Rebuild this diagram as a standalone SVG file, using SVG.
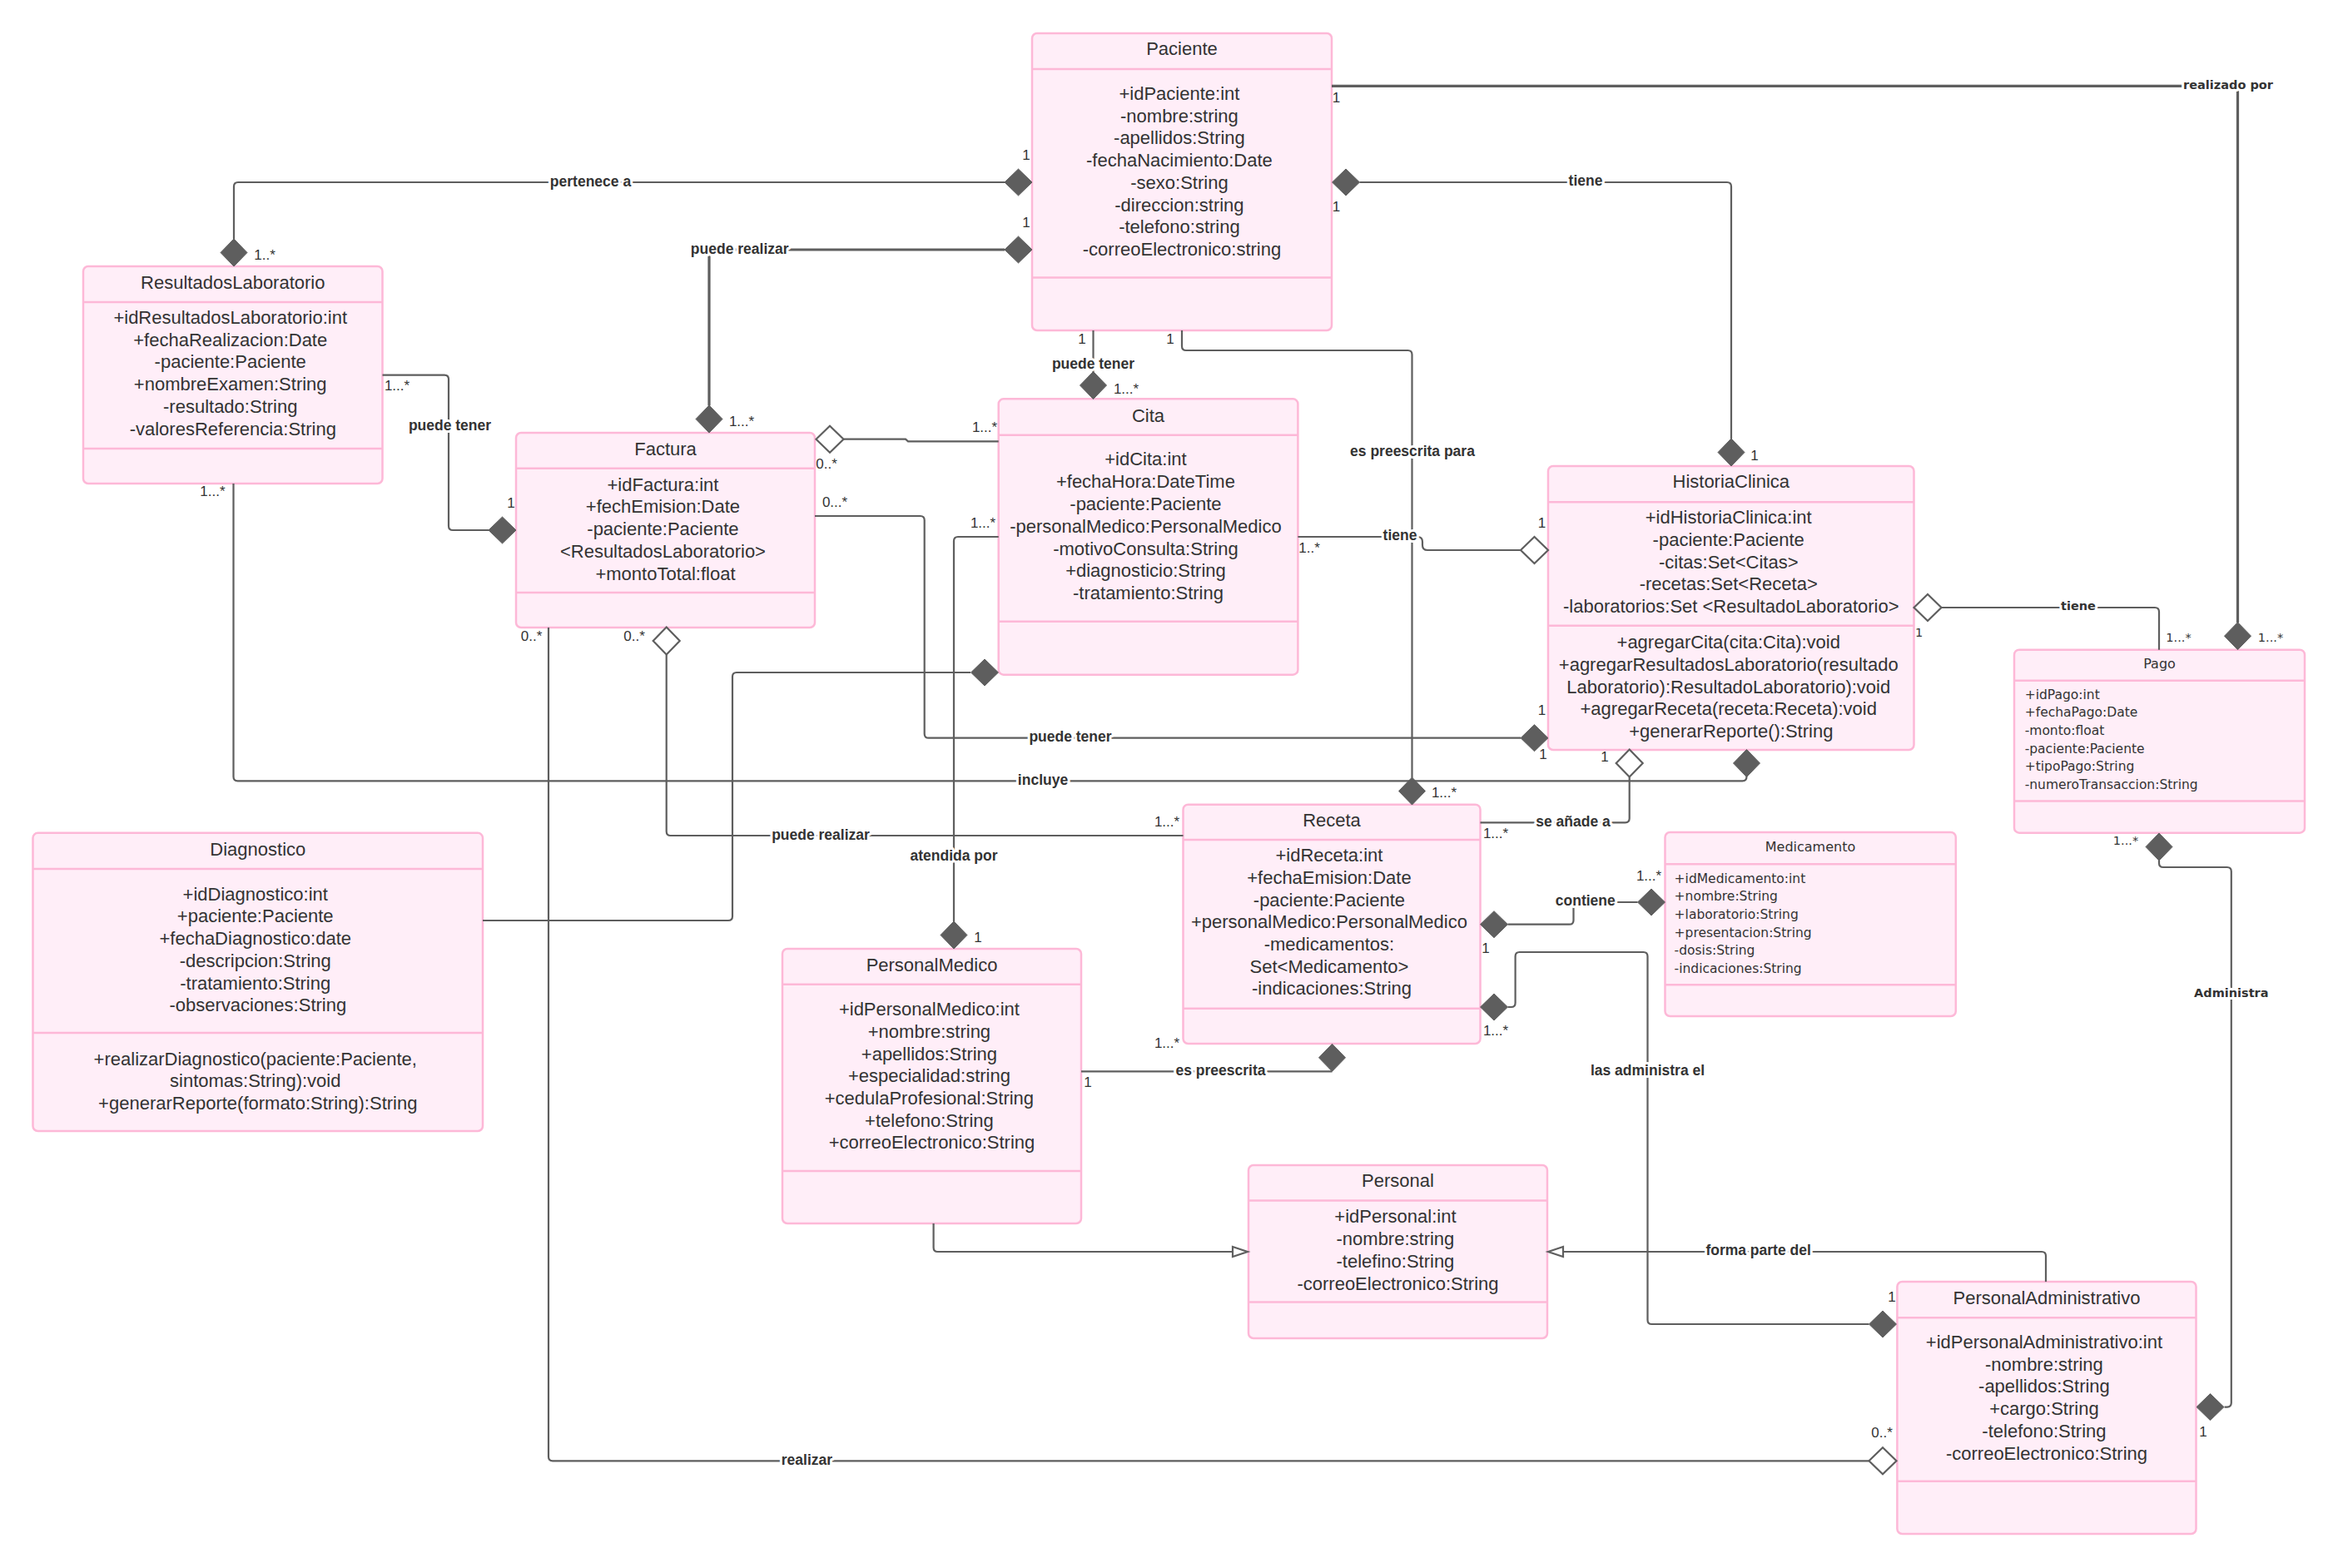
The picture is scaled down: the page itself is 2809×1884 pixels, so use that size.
<svg xmlns="http://www.w3.org/2000/svg" xmlns:xlink="http://www.w3.org/1999/xlink" width="2809" height="1884" viewBox="0 0 2809 1884">
  <style>
    .box { fill: #FFEEF8; stroke: #FDB8D7; stroke-width: 2.5; }
    .sep { stroke: #FDB8D7; stroke-width: 2.5; }
    .t { font-family: "Liberation Sans", Arial, sans-serif; font-size: 22px; fill: #333333; text-anchor: middle; }
    .s { font-family: "DejaVu Sans", Verdana, sans-serif; font-size: 15.5px; fill: #333333; }
    .st { font-family: "DejaVu Sans", Verdana, sans-serif; font-size: 16px; fill: #333333; text-anchor: middle; }
    .ln { fill: none; stroke: #5E5E5E; stroke-width: 2.2; }
    .thick { stroke-width: 3.2; }
    .fd { fill: #5E5E5E; stroke: #5E5E5E; stroke-width: 1; }
    .hd { fill: #FFFFFF; stroke: #5E5E5E; stroke-width: 2.2; }
    .lbl { font-family: "Liberation Sans", Arial, sans-serif; font-size: 17.5px; font-weight: bold; fill: #333333; text-anchor: middle; paint-order: stroke; stroke: #FFFFFF; stroke-width: 6px; stroke-linejoin: round; }
    .lbd { font-family: "DejaVu Sans", Verdana, sans-serif; font-size: 14.5px; font-weight: bold; fill: #333333; text-anchor: middle; paint-order: stroke; stroke: #FFFFFF; stroke-width: 6px; stroke-linejoin: round; }
    .m { font-family: "Liberation Sans", Arial, sans-serif; font-size: 17px; fill: #333333; text-anchor: middle; }
    .md { font-family: "DejaVu Sans", Verdana, sans-serif; font-size: 14.5px; fill: #333333; text-anchor: middle; }
  </style>
  <defs>
    <path id="dh" d="M-16.5,0 L0,-16 L16.5,0 L0,16 Z"/>
    <path id="dv" d="M0,-16.5 L16,0 L0,16.5 L-16,0 Z"/>
    <path id="triR" d="M0,0 L-18,-6 L-18,6 Z"/>
    <path id="triL" d="M0,0 L18,-6 L18,6 Z"/>
  </defs>

  <rect width="2809" height="1884" fill="#FFFFFF"/>

  <!-- Classes -->
  <g id="paciente">
    <rect class="box" x="1240" y="40" width="360" height="357" rx="6"/>
    <line class="sep" x1="1240" y1="83" x2="1600" y2="83"/>
    <line class="sep" x1="1240" y1="333.5" x2="1600" y2="333.5"/>
    <text class="t" x="1420" y="66">Paciente</text>
    <text class="t" x="1420" y="120">
      <tspan x="1420" dy="0">+idPaciente:int</tspan>
      <tspan x="1420" dy="26.7">-nombre:string</tspan>
      <tspan x="1420" dy="26.7">-apellidos:String</tspan>
      <tspan x="1420" dy="26.7">-fechaNacimiento:Date</tspan>
      <tspan x="1420" dy="26.7">-sexo:String</tspan>
      <tspan x="1420" dy="26.7">-direccion:string</tspan>
      <tspan x="1420" dy="26.7">-telefono:string</tspan>
      <tspan x="1420" dy="26.7">-correoElectronico:string</tspan>
    </text>
  </g>

  <g id="resultados-laboratorio">
    <rect class="box" x="100" y="320" width="359.5" height="261" rx="6"/>
    <line class="sep" x1="100" y1="363" x2="459.5" y2="363"/>
    <line class="sep" x1="100" y1="539" x2="459.5" y2="539"/>
    <text class="t" x="279.8" y="346.8">ResultadosLaboratorio</text>
    <text class="t" x="279.8" y="388.7">
      <tspan x="279.8" dy="0">+idResultadosLaboratorio:int</tspan>
      <tspan x="279.8" dy="26.8">+fechaRealizacion:Date</tspan>
      <tspan x="279.8" dy="26.8">-paciente:Paciente</tspan>
      <tspan x="279.8" dy="26.8">+nombreExamen:String</tspan>
      <tspan x="279.8" dy="26.8">-resultado:String</tspan>
      <tspan x="279.8" dy="26.8">-valoresReferencia:String</tspan>
    </text>
  </g>

  <g id="factura">
    <rect class="box" x="620" y="520" width="359" height="234" rx="6"/>
    <line class="sep" x1="620" y1="562.7" x2="979" y2="562.7"/>
    <line class="sep" x1="620" y1="712" x2="979" y2="712"/>
    <text class="t" x="799.5" y="547">Factura</text>
    <text class="t" x="799.5" y="589.5">
      <tspan x="799.5" dy="0">+idFactura:int</tspan>
      <tspan x="799.5" dy="26.8">+fechEmision:Date</tspan>
      <tspan x="799.5" dy="26.8">-paciente:Paciente</tspan>
      <tspan x="799.5" dy="26.8">&lt;ResultadosLaboratorio&gt;</tspan>
      <tspan x="799.5" dy="26.8">+montoTotal:float</tspan>
    </text>
  </g>

  <g id="cita">
    <rect class="box" x="1199.7" y="479.3" width="359.7" height="331.4" rx="6"/>
    <line class="sep" x1="1199.7" y1="522.7" x2="1559.4" y2="522.7"/>
    <line class="sep" x1="1199.7" y1="746.7" x2="1559.4" y2="746.7"/>
    <text class="t" x="1379.5" y="507">Cita</text>
    <text class="t" x="1379.5" y="559.4">
      <tspan x="1379.5" dy="0">+idCita:int</tspan>
      <tspan x="1379.5" dy="26.8">+fechaHora:DateTime</tspan>
      <tspan x="1379.5" dy="26.8">-paciente:Paciente</tspan>
      <tspan x="1379.5" dy="26.8">-personalMedico:PersonalMedico</tspan>
      <tspan x="1379.5" dy="26.8">-motivoConsulta:String</tspan>
      <tspan x="1379.5" dy="26.8">+diagnosticio:String</tspan>
      <tspan x="1379.5" dy="26.8">-tratamiento:String</tspan>
    </text>
  </g>

  <g id="historia-clinica">
    <rect class="box" x="1860" y="560" width="439.5" height="341" rx="6"/>
    <line class="sep" x1="1860" y1="603.3" x2="2299.5" y2="603.3"/>
    <line class="sep" x1="1860" y1="751.7" x2="2299.5" y2="751.7"/>
    <text class="t" x="2079.8" y="586">HistoriaClinica</text>
    <text class="t" x="2079.8" y="629.4">
      <tspan x="2079.8" dy="0">+idHistoriaClinica:int</tspan>
      <tspan x="2079.8" dy="26.65">-paciente:Paciente</tspan>
      <tspan x="2079.8" dy="26.65">-citas:Set&lt;Citas&gt;</tspan>
      <tspan x="2079.8" dy="26.65">-recetas:Set&lt;Receta&gt;</tspan>
      <tspan x="2079.8" dy="26.65">-laboratorios:Set &lt;ResultadoLaboratorio&gt;</tspan>
    </text>
    <text class="t" x="2079.8" y="779.4">
      <tspan x="2079.8" dy="0">+agregarCita(cita:Cita):void</tspan>
      <tspan x="2079.8" dy="26.65">+agregarResultadosLaboratorio(resultado</tspan>
      <tspan x="2079.8" dy="26.65">Laboratorio):ResultadoLaboratorio):void</tspan>
      <tspan x="2079.8" dy="26.65">+agregarReceta(receta:Receta):void</tspan>
      <tspan x="2079.8" dy="26.65">+generarReporte():String</tspan>
    </text>
  </g>

  <g id="pago">
    <rect class="box" x="2420" y="780.7" width="349" height="220" rx="6"/>
    <line class="sep" x1="2420" y1="817.7" x2="2769" y2="817.7"/>
    <line class="sep" x1="2420" y1="962.5" x2="2769" y2="962.5"/>
    <text class="st" x="2594.5" y="802.5">Pago</text>
    <text class="s" x="2432.7" y="839.8">
      <tspan x="2432.7" dy="0">+idPago:int</tspan>
      <tspan x="2432.7" dy="21.6">+fechaPago:Date</tspan>
      <tspan x="2432.7" dy="21.6">-monto:float</tspan>
      <tspan x="2432.7" dy="21.6">-paciente:Paciente</tspan>
      <tspan x="2432.7" dy="21.6">+tipoPago:String</tspan>
      <tspan x="2432.7" dy="21.6">-numeroTransaccion:String</tspan>
    </text>
  </g>

  <g id="diagnostico">
    <rect class="box" x="39.5" y="1000.8" width="540.5" height="358.2" rx="6"/>
    <line class="sep" x1="39.5" y1="1044" x2="580" y2="1044"/>
    <line class="sep" x1="39.5" y1="1241" x2="580" y2="1241"/>
    <text class="t" x="309.8" y="1027.7">Diagnostico</text>
    <text class="t" x="309.8" y="1081.7">
      <tspan x="309.8" dy="0">+idDiagnostico:int</tspan>
      <tspan x="309.8" dy="26.7">+paciente:Paciente</tspan>
      <tspan x="309.8" dy="26.7">+fechaDiagnostico:date</tspan>
      <tspan x="309.8" dy="26.7">-descripcion:String</tspan>
      <tspan x="309.8" dy="26.7">-tratamiento:String</tspan>
      <tspan x="309.8" dy="26.7">-observaciones:String</tspan>
    </text>
    <text class="t" x="309.8" y="1279.5">
      <tspan x="309.8" dy="0">+realizarDiagnostico(paciente:Paciente,</tspan>
      <tspan x="309.8" dy="26.7">sintomas:String):void</tspan>
      <tspan x="309.8" dy="26.7">+generarReporte(formato:String):String</tspan>
    </text>
  </g>

  <g id="receta">
    <rect class="box" x="1421.5" y="966.7" width="357" height="287.3" rx="6"/>
    <line class="sep" x1="1421.5" y1="1009" x2="1778.5" y2="1009"/>
    <line class="sep" x1="1421.5" y1="1211.7" x2="1778.5" y2="1211.7"/>
    <text class="t" x="1600" y="993.4">Receta</text>
    <text class="t" x="1600" y="1035.4">
      <tspan x="1600" dy="0">+idReceta:int</tspan>
      <tspan x="1600" dy="26.67">+fechaEmision:Date</tspan>
      <tspan x="1600" dy="26.67">-paciente:Paciente</tspan>
      <tspan x="1600" dy="26.67">+personalMedico:PersonalMedico</tspan>
      <tspan x="1600" dy="26.67">-medicamentos:</tspan>
      <tspan x="1600" dy="26.67">Set&lt;Medicamento&gt;</tspan>
      <tspan x="1600" dy="26.67">-indicaciones:String</tspan>
    </text>
  </g>

  <g id="medicamento">
    <rect class="box" x="2000.5" y="1000" width="349.3" height="221" rx="6"/>
    <line class="sep" x1="2000.5" y1="1038.3" x2="2349.8" y2="1038.3"/>
    <line class="sep" x1="2000.5" y1="1183.3" x2="2349.8" y2="1183.3"/>
    <text class="st" x="2175" y="1022.5">Medicamento</text>
    <text class="s" x="2011.6" y="1060.8">
      <tspan x="2011.6" dy="0">+idMedicamento:int</tspan>
      <tspan x="2011.6" dy="21.6">+nombre:String</tspan>
      <tspan x="2011.6" dy="21.6">+laboratorio:String</tspan>
      <tspan x="2011.6" dy="21.6">+presentacion:String</tspan>
      <tspan x="2011.6" dy="21.6">-dosis:String</tspan>
      <tspan x="2011.6" dy="21.6">-indicaciones:String</tspan>
    </text>
  </g>

  <g id="personal-medico">
    <rect class="box" x="940" y="1140" width="359" height="330" rx="6"/>
    <line class="sep" x1="940" y1="1182.7" x2="1299" y2="1182.7"/>
    <line class="sep" x1="940" y1="1407" x2="1299" y2="1407"/>
    <text class="t" x="1119.5" y="1166.7">PersonalMedico</text>
    <text class="t" x="1119.5" y="1220.4">
      <tspan x="1119.5" dy="0">+idPersonalMedico:int</tspan>
      <tspan x="1119.5" dy="26.67">+nombre:string</tspan>
      <tspan x="1119.5" dy="26.67">+apellidos:String</tspan>
      <tspan x="1119.5" dy="26.67">+especialidad:string</tspan>
      <tspan x="1119.5" dy="26.67">+cedulaProfesional:String</tspan>
      <tspan x="1119.5" dy="26.67">+telefono:String</tspan>
      <tspan x="1119.5" dy="26.67">+correoElectronico:String</tspan>
    </text>
  </g>

  <g id="personal">
    <rect class="box" x="1500" y="1400" width="359" height="208" rx="6"/>
    <line class="sep" x1="1500" y1="1442.6" x2="1859" y2="1442.6"/>
    <line class="sep" x1="1500" y1="1564.6" x2="1859" y2="1564.6"/>
    <text class="t" x="1679.5" y="1425.7">Personal</text>
    <text class="t" x="1679.5" y="1469.1">
      <tspan x="1679.5" dy="0">+idPersonal:int</tspan>
      <tspan x="1679.5" dy="26.8">-nombre:string</tspan>
      <tspan x="1679.5" dy="26.8">-telefino:String</tspan>
      <tspan x="1679.5" dy="26.8">-correoElectronico:String</tspan>
    </text>
  </g>

  <g id="personal-administrativo">
    <rect class="box" x="2279.4" y="1540" width="359.1" height="303" rx="6"/>
    <line class="sep" x1="2279.4" y1="1583.3" x2="2638.5" y2="1583.3"/>
    <line class="sep" x1="2279.4" y1="1779.8" x2="2638.5" y2="1779.8"/>
    <text class="t" x="2459" y="1566.5">PersonalAdministrativo</text>
    <text class="t" x="2459" y="1619.7">
      <tspan x="2459" dy="0">+idPersonalAdministrativo:int</tspan>
      <tspan x="2459" dy="26.8">-nombre:string</tspan>
      <tspan x="2459" dy="26.8">-apellidos:String</tspan>
      <tspan x="2459" dy="26.8">+cargo:String</tspan>
      <tspan x="2459" dy="26.8">-telefono:String</tspan>
      <tspan x="2459" dy="26.8">-correoElectronico:String</tspan>
    </text>
  </g>

  <!-- Associations, aggregations, compositions and generalizations -->
  <g id="connectors">
    <!-- line paths -->
    <path class="ln" d="M1207,219 H286 Q281,219 281,224 V287.5"/>
    <path class="ln thick" d="M1207,300 H857 Q852,300 852,305 V487.5"/>
    <path class="ln" d="M1313.5,397 V447.5"/>
    <path class="ln" d="M1420,397 V416 Q1420,421 1425,421 H1691.5 Q1696.5,421 1696.5,426 V934.5"/>
    <path class="ln" d="M1633.5,219 H2075 Q2080,219 2080,224 V527.5"/>
    <path class="ln thick" d="M1600,103.4 H2683.5 Q2688.5,103.4 2688.5,108.4 V748"/>
    <path class="ln" d="M459.5,450.6 H534 Q539,450.6 539,455.6 V632 Q539,637 544,637 H587"/>
    <path class="ln" d="M1013.5,527.7 H1088 L1091,530.3 H1199.7"/>
    <path class="ln" d="M979,620 H1105.7 Q1110.7,620 1110.7,625 V881.7 Q1110.7,886.7 1115.7,886.7 H1827"/>
    <path class="ln" d="M1559.4,645 H1703 Q1709,645 1709,651 V655 Q1709,661 1715,661 H1827"/>
    <path class="ln" d="M2332.5,730 H2589 Q2594,730 2594,735 V780.7"/>
    <path class="ln" d="M280.5,581 V933.3 Q280.5,938.3 285.5,938.3 H2093.5 Q2098.5,938.3 2098.5,933"/>
    <path class="ln" d="M1957.7,933.5 V983.3 Q1957.7,988.3 1952.7,988.3 H1778.5"/>
    <path class="ln" d="M800.7,786.5 V999 Q800.7,1004 805.7,1004 H1421.5"/>
    <path class="ln" d="M1199.7,645 H1151 Q1146,645 1146,650 V1107"/>
    <path class="ln" d="M1166,808 H885 Q880,808 880,813 V1101 Q880,1106 875,1106 H580"/>
    <path class="ln" d="M1967.5,1084 H1895.5 Q1890.5,1084 1890.5,1089 V1105.7 Q1890.5,1110.7 1885.5,1110.7 H1811.5"/>
    <path class="ln" d="M1811.5,1210 H1815.6 Q1820.6,1210 1820.6,1205 V1149 Q1820.6,1144 1825.6,1144 H1974.5 Q1979.5,1144 1979.5,1149 V1586 Q1979.5,1591 1984.5,1591 H2245.5"/>
    <path class="ln" d="M1299,1287.3 H1600.5"/>
    <path class="ln" d="M1121.6,1470 V1499 Q1121.6,1504 1126.6,1504 H1482"/>
    <path class="ln" d="M2458,1540 V1509 Q2458,1504 2453,1504 H1877"/>
    <path class="ln" d="M2594,1034 V1037 Q2594,1042 2599,1042 H2675.8 Q2680.8,1042 2680.8,1047 V1685.6 Q2680.8,1690.6 2675.8,1690.6 H2672.5"/>
    <path class="ln" d="M659,754 V1750.3 Q659,1755.3 664,1755.3 H2245.5"/>

    <!-- composition diamonds -->
    <use xlink:href="#dh" class="fd" x="1223.5" y="219"/>
    <use xlink:href="#dh" class="fd" x="1223.5" y="300"/>
    <use xlink:href="#dv" class="fd" x="281" y="303.5"/>
    <use xlink:href="#dv" class="fd" x="852" y="503.5"/>
    <use xlink:href="#dv" class="fd" x="1313.5" y="463"/>
    <use xlink:href="#dv" class="fd" x="1696.5" y="950.5"/>
    <use xlink:href="#dh" class="fd" x="1617" y="219"/>
    <use xlink:href="#dv" class="fd" x="2080" y="543.5"/>
    <use xlink:href="#dv" class="fd" x="2688.5" y="764.2"/>
    <use xlink:href="#dh" class="fd" x="603.5" y="637"/>
    <use xlink:href="#dh" class="fd" x="1843.5" y="886.7"/>
    <use xlink:href="#dv" class="fd" x="2098.5" y="917"/>
    <use xlink:href="#dh" class="fd" x="1183" y="808"/>
    <use xlink:href="#dv" class="fd" x="1146" y="1123.5"/>
    <use xlink:href="#dh" class="fd" x="1984" y="1084"/>
    <use xlink:href="#dh" class="fd" x="1795" y="1110.7"/>
    <use xlink:href="#dh" class="fd" x="1795" y="1210"/>
    <use xlink:href="#dv" class="fd" x="1600.5" y="1270.8"/>
    <use xlink:href="#dh" class="fd" x="2262" y="1591"/>
    <use xlink:href="#dh" class="fd" x="2655.5" y="1690.6"/>
    <use xlink:href="#dv" class="fd" x="2594" y="1017.5"/>

    <!-- aggregation diamonds -->
    <use xlink:href="#dh" class="hd" x="997" y="527.7"/>
    <use xlink:href="#dh" class="hd" x="1843.5" y="661"/>
    <use xlink:href="#dh" class="hd" x="2316" y="730"/>
    <use xlink:href="#dv" class="hd" x="1957.7" y="917"/>
    <use xlink:href="#dv" class="hd" x="800.7" y="770"/>
    <use xlink:href="#dh" class="hd" x="2262" y="1755.3"/>

    <!-- generalization arrowheads -->
    <use xlink:href="#triR" class="hd" x="1499" y="1504"/>
    <use xlink:href="#triL" class="hd" x="1860" y="1504"/>

    <!-- association names -->
    <text class="lbl" x="709.5" y="224">pertenece a</text>
    <text class="lbl" x="888.7" y="304.6">puede realizar</text>
    <text class="lbl" x="1313.5" y="443">puede tener</text>
    <text class="lbl" x="1697" y="547.7">es preescrita para</text>
    <text class="lbl" x="1905" y="223">tiene</text>
    <text class="lbd" x="2677" y="106.5">realizado por</text>
    <text class="lbl" x="540.5" y="517">puede tener</text>
    <text class="lbl" x="1286" y="891">puede tener</text>
    <text class="lbl" x="1682" y="649">tiene</text>
    <text class="lbd" x="2497" y="733">tiene</text>
    <text class="lbl" x="1253" y="942.7">incluye</text>
    <text class="lbl" x="1890" y="992.7">se añade a</text>
    <text class="lbl" x="986" y="1008.7">puede realizar</text>
    <text class="lbl" x="1146" y="1034.3">atendida por</text>
    <text class="lbl" x="1904.8" y="1087.7">contiene</text>
    <text class="lbl" x="1979.5" y="1292">las administra el</text>
    <text class="lbl" x="1466.5" y="1292">es preescrita</text>
    <text class="lbl" x="2112.6" y="1508">forma parte del</text>
    <text class="lbd" x="2680.8" y="1198">Administra</text>
    <text class="lbl" x="969.4" y="1760">realizar</text>

    <!-- multiplicities -->
    <text class="m" x="1233" y="191.7">1</text>
    <text class="m" x="1233" y="272.7">1</text>
    <text class="m" x="318" y="312">1..*</text>
    <text class="m" x="891" y="512">1...*</text>
    <text class="m" x="1300" y="412.7">1</text>
    <text class="m" x="1353" y="472.7">1...*</text>
    <text class="m" x="1406" y="412.7">1</text>
    <text class="m" x="1735" y="957.7">1...*</text>
    <text class="m" x="1605.6" y="122.7">1</text>
    <text class="m" x="1605.6" y="253.7">1</text>
    <text class="m" x="2108" y="552.7">1</text>
    <text class="md" x="2728" y="771">1...*</text>
    <text class="m" x="477" y="469">1...*</text>
    <text class="m" x="614" y="610">1</text>
    <text class="m" x="993" y="563">0..*</text>
    <text class="m" x="1183" y="519">1...*</text>
    <text class="m" x="1003" y="609">0...*</text>
    <text class="m" x="1852.5" y="859">1</text>
    <text class="m" x="1854" y="912">1</text>
    <text class="m" x="1573" y="664">1..*</text>
    <text class="m" x="1852.5" y="634">1</text>
    <text class="md" x="2305.6" y="764.6">1</text>
    <text class="md" x="2617.5" y="771">1...*</text>
    <text class="m" x="255.4" y="596">1...*</text>
    <text class="m" x="1928" y="915">1</text>
    <text class="m" x="1797" y="1006.7">1...*</text>
    <text class="m" x="762" y="769.6">0..*</text>
    <text class="m" x="1402" y="992.7">1...*</text>
    <text class="m" x="1181" y="634">1...*</text>
    <text class="m" x="1175" y="1132">1</text>
    <text class="m" x="1981" y="1057.7">1...*</text>
    <text class="m" x="1785" y="1145">1</text>
    <text class="m" x="1797" y="1244.3">1...*</text>
    <text class="m" x="2273" y="1564">1</text>
    <text class="m" x="1307" y="1306">1</text>
    <text class="m" x="1402" y="1259">1...*</text>
    <text class="md" x="2554" y="1015">1...*</text>
    <text class="m" x="2647" y="1726">1</text>
    <text class="m" x="638.5" y="769.6">0..*</text>
    <text class="m" x="2261" y="1727">0..*</text>
  </g>
</svg>
